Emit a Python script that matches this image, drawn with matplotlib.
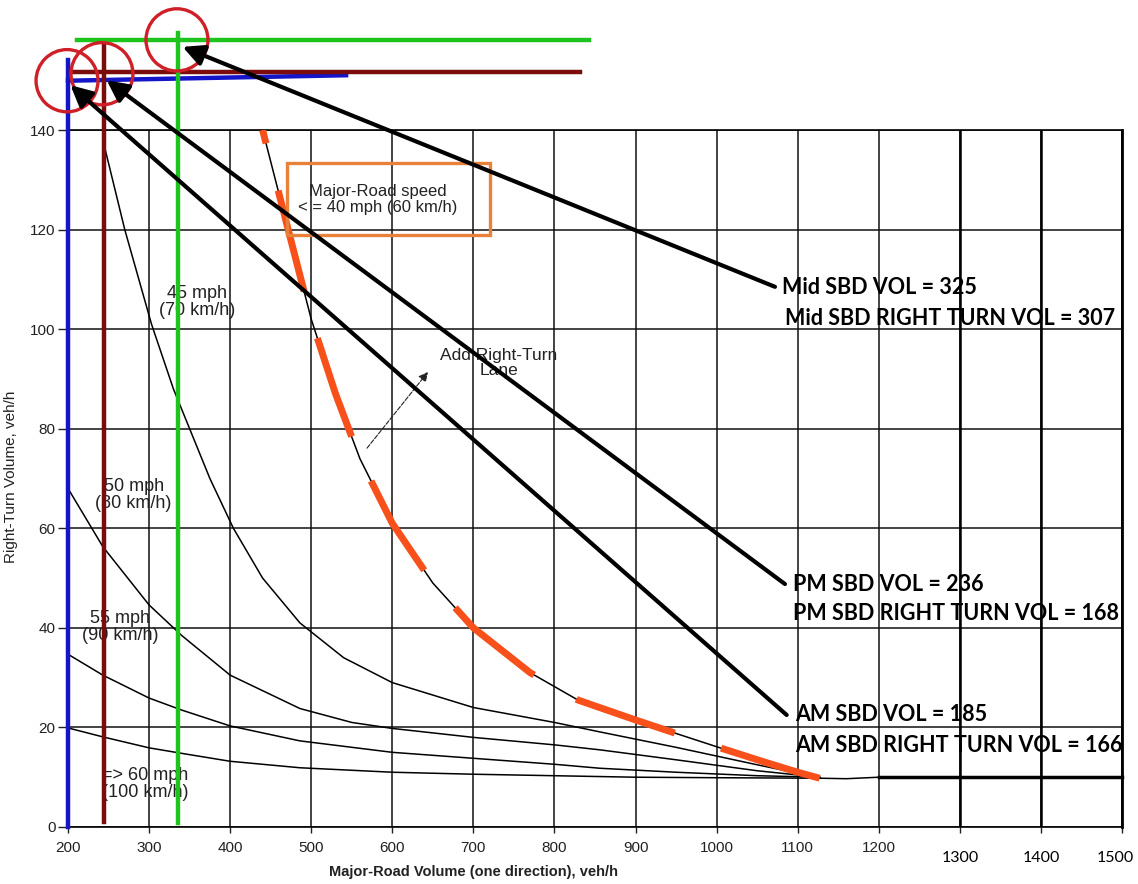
import matplotlib
matplotlib.use('Agg')
import matplotlib.pyplot as plt
from matplotlib.patches import Ellipse, Rectangle
from matplotlib.transforms import ScaledTranslation

# speed curves (major-road volume, right-turn volume)
x40 = [440, 470, 500, 530, 560, 600, 650, 700, 770, 829, 900, 946, 1008, 1060, 1100, 1127, 1160, 1200]
y40 = [140, 121, 102, 87, 74, 61, 49, 40, 31, 25.5, 21.5, 19, 15.7, 13, 11, 9.8, 9.7, 10]
x45 = [243, 270, 303, 330, 350, 375, 404, 440, 486, 540, 600, 700, 800, 856, 950, 1050, 1100, 1127]
y45 = [138, 120, 101, 88, 80, 70, 60, 50, 41, 34, 29, 24, 21, 19.1, 16, 12.5, 10.8, 10]
x50 = [200, 243, 300, 340, 400, 486, 550, 600, 700, 800, 856, 950, 1050, 1127]
y50 = [68, 56.3, 44.6, 38.5, 30.5, 23.8, 21, 19.8, 18, 16.5, 15.5, 13.5, 11.3, 10]
x55 = [200, 243, 300, 340, 400, 486, 600, 700, 800, 856, 950, 1050, 1127]
y55 = [34.7, 30.5, 25.9, 23.5, 20.3, 17.3, 15, 13.8, 12.6, 11.8, 11, 10.3, 10]
x60 = [200, 243, 300, 340, 400, 486, 600, 700, 800, 900, 1000, 1127]
y60 = [19.9, 18.1, 15.9, 14.8, 13.2, 11.9, 11, 10.6, 10.3, 10, 9.9, 9.8]
tail_x = [1200, 1500]
tail_y = [10, 10]

curve_labels = ['45 mph\n(70 km/h)', '50 mph\n(80 km/h)', '55 mph\n(90 km/h)', '=> 60 mph\n(100 km/h)']
curve_label_x = [359, 281, 264, 295]
curve_label_y = [105.4, 66.7, 40.2, 8.6]

# overlay markers for the three periods
periods = ['AM', 'PM', 'Mid']
colors = ['#1414c8', '#7a0c0c', '#1ec41e']
vol_x = [200, 244.4, 336]
v_bottom = [0, 1, 0.8]
v_top = [154, 157.5, 159.5]
h_x0 = [200, 204, 211]
h_x1 = [543, 832, 843]
h_y0 = [149.9, 151.7, 158.1]
h_y1 = [151.0, 151.7, 158.1]
circle_x = [198.8, 241.9, 334.4]
circle_y = [149.9, 151.3, 158.1]
arrow_tip_x = [203, 247.7, 341.3]
arrow_tip_y = [149, 150.0, 156.7]
arrow_tail_x = [1086.4, 1084.3, 1072]
arrow_tail_y = [22.5, 48.8, 108.5]
notes = [['AM SBD VOL = 185', 'AM SBD RIGHT TURN VOL = 166'],
         ['PM SBD VOL = 236', 'PM SBD RIGHT TURN VOL = 168'],
         ['Mid SBD VOL = 325', 'Mid SBD RIGHT TURN VOL = 307']]
note_x = [[1096.6, 1096.6], [1094, 1094], [1080.6, 1084.3]]
note_y = [[22.5, 16.3], [48.8, 42.8], [108.3, 102.2]]

xticks = list(range(200, 1501, 100))
yticks = list(range(0, 141, 20))

plt.rcParams['font.family'] = ['Liberation Sans', 'DejaVu Sans']

fig = plt.figure(figsize=(11.38, 8.84), dpi=100)
ax = fig.add_axes([68 / 1138, 57 / 884, 1054 / 1138, 697 / 884])
ax.set_xlim(200, 1500)
ax.set_ylim(0, 140)
ax.set_xticks(xticks)
ax.set_yticks(yticks)
ax.grid(True, color='#111111', lw=1.1)
for xv in xticks[-3:]:
    ax.axvline(xv, color='black', lw=1.8)
for s in ax.spines.values():
    s.set_color('black')
    s.set_linewidth(1.2)
ax.spines['right'].set_linewidth(2)

ax.tick_params(axis='x', direction='out', length=4, width=1, pad=6, labelsize=11, colors='#222222')
ax.tick_params(axis='y', direction='out', length=7, width=1, pad=2, labelsize=11, colors='#222222')
# the pasted-on right part (1300-1500) uses a bigger font and heavier ticks
for xv, tick in zip(xticks, ax.xaxis.get_major_ticks(len(xticks))):
    if xv > 1200:
        tick.tick1line.set_markersize(10)
        tick.tick1line.set_markeredgewidth(2)
        tick.label1.set_fontfamily(['Lato', 'DejaVu Sans'])
        tick.label1.set_fontsize(11.5)
        tick.label1.set_color('black')
        tick.set_pad(13)
    if xv == xticks[-1]:
        tick.label1.set_transform(tick.label1.get_transform()
                                  + ScaledTranslation(-5 / 72, 0, fig.dpi_scale_trans))

ax.set_xlabel('Major-Road Volume (one direction), veh/h', fontsize=10.5, fontweight='bold', color='#222222')
ax.xaxis.set_label_coords(0.385, -0.055)
ax.set_ylabel('Right-Turn Volume, veh/h', fontsize=11, color='#222222')
ax.yaxis.set_label_coords(-0.047, 0.502)

# curves
for xs, ys in [(x40, y40), (x45, y45), (x50, y50), (x55, y55), (x60, y60)]:
    ax.plot(xs, ys, color='black', lw=1.1)
ax.plot(tail_x, tail_y, color='black', lw=2.5, clip_on=False)
ax.plot(x40[:16], y40[:16], color='#f8501a', lw=5, linestyle=(13, (15, 7)),
        solid_capstyle='butt', dash_capstyle='butt', zorder=4)

for t, xv, yv in zip(curve_labels, curve_label_x, curve_label_y):
    ax.text(xv, yv, t, ha='center', va='center', fontsize=13, color='#222222', linespacing=1.0)

ax.add_patch(Rectangle((469.7, 118.9), 250.8, 14.4, fill=False, edgecolor='#e8823a', lw=2.4, zorder=5))
ax.text(582, 126.1, 'Major-Road speed\n< = 40 mph (60 km/h)', ha='center', va='center',
        fontsize=12, color='#222222', linespacing=1.05)
ax.text(731.6, 93.2, 'Add Right-Turn\nLane', ha='center', va='center', fontsize=12.5,
        color='#222222', linespacing=0.95)
ax.annotate('', xy=(644, 91.4), xytext=(568.8, 76.1),
            arrowprops=dict(arrowstyle='-|>', color='#222222', lw=0.8, linestyle=(0, (4, 1.5)),
                            mutation_scale=14, shrinkA=0, shrinkB=0))

# period overlays
for i in range(3):
    c = colors[i]
    ax.plot([vol_x[i], vol_x[i]], [v_bottom[i], v_top[i]], color=c, lw=3.2, clip_on=False, zorder=6)
    ax.plot([h_x0[i], h_x1[i]], [h_y0[i], h_y1[i]], color=c, lw=3.2, clip_on=False, zorder=6)
    ax.add_patch(Ellipse((circle_x[i], circle_y[i]), 76.4, 12.5, fill=False,
                         edgecolor='#cf2027', lw=2.4, clip_on=False, zorder=7))
    ax.annotate('', xy=(arrow_tip_x[i], arrow_tip_y[i]), xytext=(arrow_tail_x[i], arrow_tail_y[i]),
                arrowprops=dict(arrowstyle='-|>', color='black', lw=3, mutation_scale=32,
                                shrinkA=0, shrinkB=0),
                annotation_clip=False, zorder=8)
    for t, xv, yv in zip(notes[i], note_x[i], note_y[i]):
        ax.text(xv, yv, t, ha='left', va='center', fontsize=15.5, fontweight='bold',
                family=['Lato', 'DejaVu Sans'], color='black', clip_on=False, zorder=9)

fig.savefig('out.png', dpi=100)
